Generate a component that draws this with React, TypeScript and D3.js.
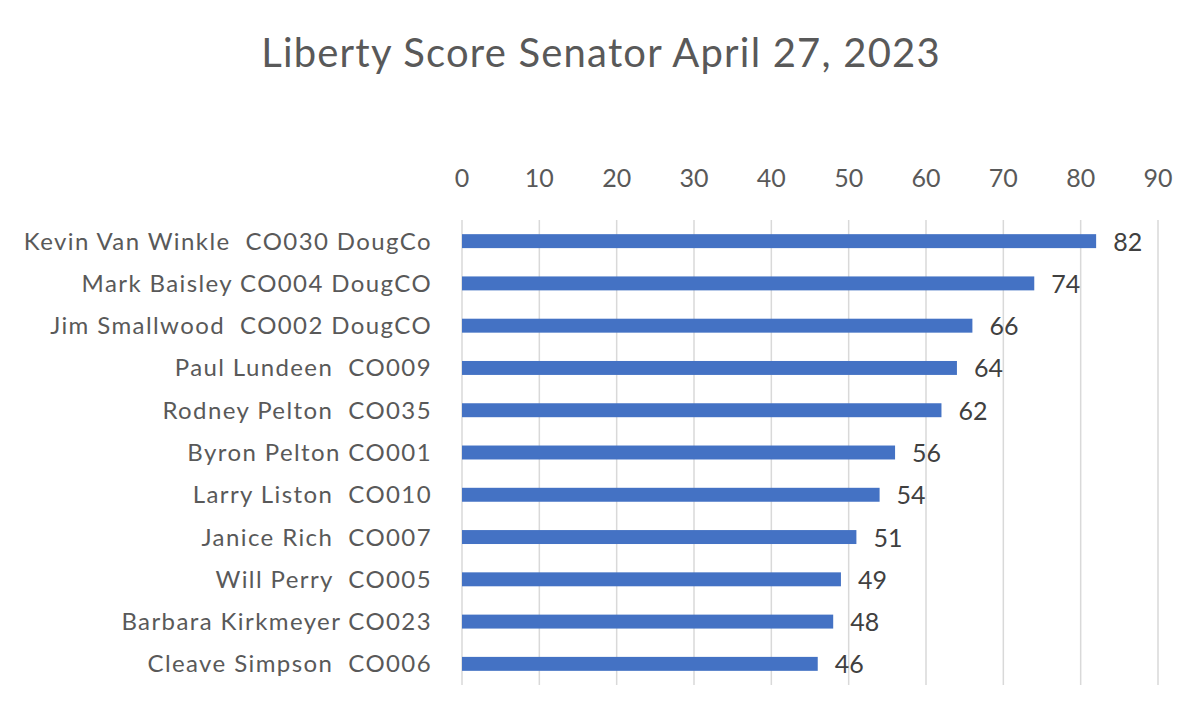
import React from "react";
import * as d3 from "d3";

const names = [
  "Kevin Van Winkle  CO030 DougCo",
  "Mark Baisley CO004 DougCO",
  "Jim Smallwood  CO002 DougCO",
  "Paul Lundeen  CO009",
  "Rodney Pelton  CO035",
  "Byron Pelton CO001",
  "Larry Liston  CO010",
  "Janice Rich  CO007",
  "Will Perry  CO005",
  "Barbara Kirkmeyer CO023",
  "Cleave Simpson  CO006",
];
const scores = [82, 74, 66, 64, 62, 56, 54, 51, 49, 48, 46];
const ticks = [0, 10, 20, 30, 40, 50, 60, 70, 80, 90];
const title = "Liberty Score Senator April 27, 2023";

const W = 1200;
const H = 715;
const FONT = "Lato, 'Open Sans', sans-serif";
const TEXT = "#595959";

export default function App() {
  const x = d3.scaleLinear().domain([0, 90]).range([462, 1158]);
  const y = d3.scaleBand<string>().domain(names).range([220, 685]).paddingInner(0.67).paddingOuter(0.335);
  return (
    <div style={{ position: "absolute", left: 0, top: 0 }}>
      <svg width={W} height={H} style={{ display: "block", background: "#fff" }}>
        <text x={601} y={67} textAnchor="middle" fontFamily={FONT} fontSize={40} letterSpacing={1.2} fill={TEXT}>
          {title}
        </text>
        {ticks.map((t) => (
          <g key={t}>
            <line x1={x(t)} x2={x(t)} y1={220} y2={685} stroke="#d9d9d9" strokeWidth={1.5} />
            <text x={x(t)} y={187} textAnchor="middle" fontFamily={FONT} fontSize={25} fill={TEXT}>
              {t}
            </text>
          </g>
        ))}
        {names.map((n, i) => {
          const yc = (y(n) as number) + y.bandwidth() / 2;
          return (
            <g key={n}>
              <rect x={x(0)} y={y(n)} width={x(scores[i]) - x(0)} height={y.bandwidth()} fill="#4472C4" />
              <text x={432} y={yc + 8.5} textAnchor="end" fontFamily={FONT} fontSize={24} letterSpacing={1.4} fill={TEXT} style={{ whiteSpace: "pre" }}>
                {n}
              </text>
              <text x={x(scores[i]) + 17} y={yc + 9.5} fontFamily={FONT} fontSize={25} fill="#404040">
                {scores[i]}
              </text>
            </g>
          );
        })}
      </svg>
    </div>
  );
}
